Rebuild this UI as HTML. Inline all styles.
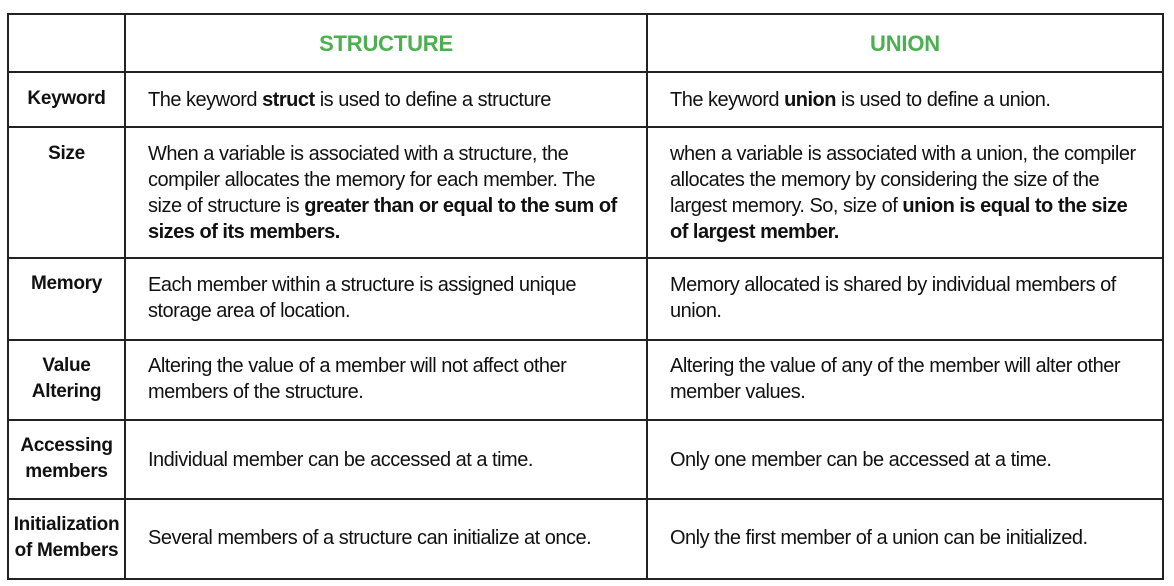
<!DOCTYPE html>
<html><head><style>
body{margin:0;width:1174px;height:586px;background:#fff;position:relative;overflow:hidden;font-family:"Liberation Sans",Arial,sans-serif;color:#111}
.l{position:absolute;background:#222}
.t{position:absolute;font-size:20px;line-height:26px;letter-spacing:-0.5px;white-space:nowrap}
.h{position:absolute;font-weight:bold;font-size:19px;line-height:26px;text-align:center;width:117px;left:8px;letter-spacing:-0.3px}
.g{position:absolute;color:#4caf50;font-weight:bold;font-size:22px;text-align:center;letter-spacing:-0.2px}
b{font-weight:bold}
</style></head><body>
<div class="l" style="left:7px;top:13px;width:1157px;height:2px"></div>
<div class="l" style="left:7px;top:578px;width:1157px;height:2px"></div>
<div class="l" style="left:7px;top:13px;width:2px;height:567px"></div>
<div class="l" style="left:1162px;top:13px;width:2px;height:567px"></div>
<div class="l" style="left:124px;top:13px;width:2px;height:567px"></div>
<div class="l" style="left:646px;top:13px;width:2px;height:567px"></div>
<div class="l" style="left:7px;top:71px;width:1157px;height:2px"></div>
<div class="l" style="left:7px;top:126px;width:1157px;height:2px"></div>
<div class="l" style="left:7px;top:257px;width:1157px;height:2px"></div>
<div class="l" style="left:7px;top:339px;width:1157px;height:2px"></div>
<div class="l" style="left:7px;top:419px;width:1157px;height:2px"></div>
<div class="l" style="left:7px;top:498px;width:1157px;height:2px"></div>

<div class="g" style="left:126px;width:520px;top:31px">STRUCTURE</div>
<div class="g" style="left:648px;width:514px;top:31px">UNION</div>

<div class="h" style="top:86px">Keyword</div>
<div class="h" style="top:141px">Size</div>
<div class="h" style="top:271px">Memory</div>
<div class="h" style="top:353px">Value<br>Altering</div>
<div class="h" style="top:433px">Accessing<br>members</div>
<div class="h" style="top:512px">Initialization<br>of Members</div>

<div class="t" style="left:148px;top:87px">The keyword <b>struct</b> is used to define a structure</div>
<div class="t" style="left:148px;top:141px">When a variable is associated with a structure, the<br>compiler allocates the memory for each member. The<br>size of structure is <b>greater than or equal to the sum of<br>sizes of its members.</b></div>
<div class="t" style="left:148px;top:272px">Each member within a structure is assigned unique<br>storage area of location.</div>
<div class="t" style="left:148px;top:353px">Altering the value of a member will not affect other<br>members of the structure.</div>
<div class="t" style="left:148px;top:447px">Individual member can be accessed at a time.</div>
<div class="t" style="left:148px;top:525px">Several members of a structure can initialize at once.</div>

<div class="t" style="left:670px;top:87px">The keyword <b>union</b> is used to define a union.</div>
<div class="t" style="left:670px;top:141px">when a variable is associated with a union, the compiler<br>allocates the memory by considering the size of the<br>largest memory. So, size of <b>union is equal to the size<br>of largest member.</b></div>
<div class="t" style="left:670px;top:272px">Memory allocated is shared by individual members of<br>union.</div>
<div class="t" style="left:670px;top:353px">Altering the value of any of the member will alter other<br>member values.</div>
<div class="t" style="left:670px;top:447px">Only one member can be accessed at a time.</div>
<div class="t" style="left:670px;top:525px">Only the first member of a union can be initialized.</div>
</body></html>
